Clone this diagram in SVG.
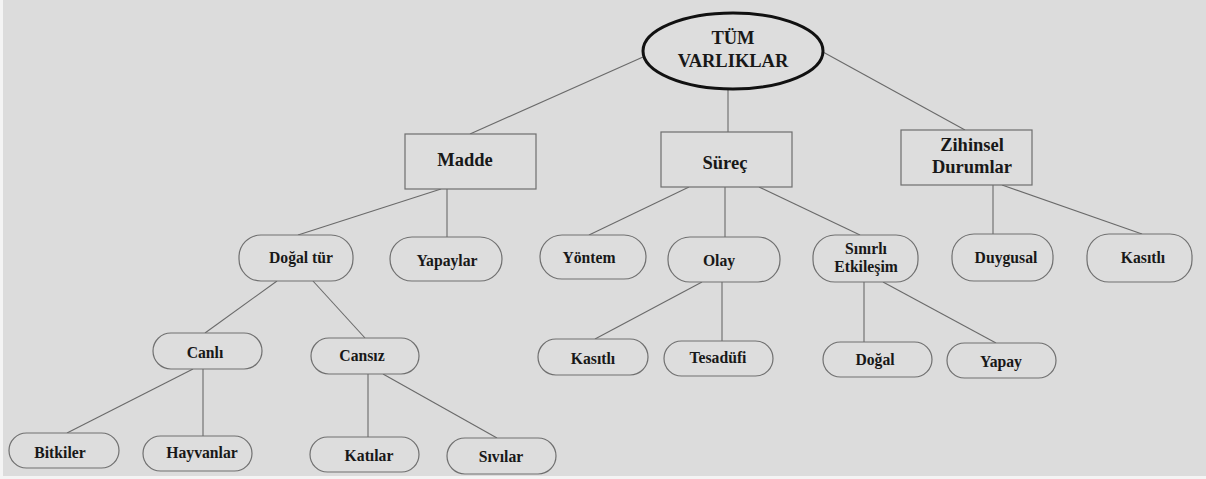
<svg xmlns="http://www.w3.org/2000/svg" width="1206" height="479" viewBox="0 0 1206 479">
<style>
.bg{fill:#dcdcdc}
.box{fill:#dddddd;stroke:#6e6e6e;stroke-width:1.2}
.pill{fill:#dddddd;stroke:#707070;stroke-width:1.2}
.root{fill:#dddddd;stroke:#111;stroke-width:3}
.c line{stroke:#6a6a6a;stroke-width:1.1}
text{font-family:"Liberation Serif","Times New Roman",serif;font-weight:bold;fill:#181818;text-anchor:middle}
.t1{font-size:18.5px}
.t2{font-size:15.7px}
</style>
<rect width="1206" height="479" fill="#f4f4f4"/>
<rect class="bg" x="3" y="0" width="1203" height="476"/>
<g id="connectors" class="c">
<line x1="643" y1="57" x2="470" y2="134"/>
<line x1="728" y1="89" x2="728" y2="132"/>
<line x1="823" y1="52" x2="965" y2="130"/>
<line x1="441" y1="189" x2="298" y2="235"/>
<line x1="447" y1="189" x2="447" y2="237"/>
<line x1="689" y1="187" x2="589" y2="235"/>
<line x1="725" y1="187" x2="725" y2="237"/>
<line x1="759" y1="187" x2="860" y2="235"/>
<line x1="993" y1="185" x2="993" y2="234"/>
<line x1="1002" y1="185" x2="1142" y2="234"/>
<line x1="277" y1="281" x2="205" y2="333"/>
<line x1="313" y1="281" x2="365" y2="338"/>
<line x1="193" y1="369" x2="67" y2="433"/>
<line x1="203" y1="369" x2="203" y2="436"/>
<line x1="368" y1="374" x2="368" y2="437"/>
<line x1="383" y1="374" x2="497" y2="438"/>
<line x1="702" y1="282" x2="595" y2="339"/>
<line x1="722" y1="282" x2="722" y2="341"/>
<line x1="864" y1="282" x2="864" y2="342"/>
<line x1="883" y1="282" x2="996" y2="343"/>
</g>
<g id="tum-varliklar">
<ellipse class="root" cx="733" cy="51" rx="90" ry="38"/>
<text class="t1" x="733" y="44">TÜM</text>
<text class="t1" x="733" y="67">VARLIKLAR</text>
</g>
<g id="madde">
<rect class="box" x="405" y="134" width="131" height="55"/>
<text class="t1" x="465" y="166">Madde</text>
</g>
<g id="surec">
<rect class="box" x="661" y="132" width="131" height="55"/>
<text class="t1" x="725" y="169">Süreç</text>
</g>
<g id="zihinsel-durumlar">
<rect class="box" x="901" y="130" width="131" height="55"/>
<text class="t1" x="972" y="151">Zihinsel</text>
<text class="t1" x="972" y="173">Durumlar</text>
</g>
<g id="dogal-tur">
<rect class="pill" x="239" y="235" width="114" height="46" rx="22"/>
<text class="t2" x="301" y="263">Doğal tür</text>
</g>
<g id="yapaylar">
<rect class="pill" x="390" y="237" width="112" height="44" rx="22"/>
<text class="t2" x="447" y="266">Yapaylar</text>
</g>
<g id="yontem">
<rect class="pill" x="540" y="235" width="106" height="44" rx="22"/>
<text class="t2" x="589" y="263">Yöntem</text>
</g>
<g id="olay">
<rect class="pill" x="668" y="237" width="112" height="45" rx="22"/>
<text class="t2" x="719" y="266">Olay</text>
</g>
<g id="sinirli-etkilesim">
<rect class="pill" x="813" y="235" width="105" height="47" rx="22"/>
<text class="t2" x="866" y="254">Sınırlı</text>
<text class="t2" x="866" y="272">Etkileşim</text>
</g>
<g id="duygusal">
<rect class="pill" x="952" y="234" width="101" height="47" rx="22"/>
<text class="t2" x="1006" y="263">Duygusal</text>
</g>
<g id="kasitli-zihinsel">
<rect class="pill" x="1087" y="234" width="105" height="48" rx="22"/>
<text class="t2" x="1143" y="263">Kasıtlı</text>
</g>
<g id="canli">
<rect class="pill" x="153" y="333" width="109" height="36" rx="18"/>
<text class="t2" x="205" y="358">Canlı</text>
</g>
<g id="cansiz">
<rect class="pill" x="311" y="338" width="108" height="36" rx="18"/>
<text class="t2" x="362" y="361">Cansız</text>
</g>
<g id="bitkiler">
<rect class="pill" x="9" y="433" width="110" height="35" rx="17.5"/>
<text class="t2" x="60" y="458">Bitkiler</text>
</g>
<g id="hayvanlar">
<rect class="pill" x="143" y="436" width="109" height="35" rx="17.5"/>
<text class="t2" x="202" y="458">Hayvanlar</text>
</g>
<g id="katilar">
<rect class="pill" x="310" y="437" width="109" height="35" rx="17.5"/>
<text class="t2" x="369" y="461">Katılar</text>
</g>
<g id="sivilar">
<rect class="pill" x="447" y="438" width="109" height="36" rx="18"/>
<text class="t2" x="501" y="462">Sıvılar</text>
</g>
<g id="kasitli-olay">
<rect class="pill" x="538" y="339" width="110" height="36" rx="18"/>
<text class="t2" x="593" y="364">Kasıtlı</text>
</g>
<g id="tesadufi">
<rect class="pill" x="664" y="341" width="109" height="35" rx="17.5"/>
<text class="t2" x="718" y="363">Tesadüfi</text>
</g>
<g id="dogal">
<rect class="pill" x="823" y="342" width="109" height="35" rx="17.5"/>
<text class="t2" x="875" y="365">Doğal</text>
</g>
<g id="yapay">
<rect class="pill" x="947" y="343" width="109" height="35" rx="17.5"/>
<text class="t2" x="1001" y="367">Yapay</text>
</g>
</svg>
